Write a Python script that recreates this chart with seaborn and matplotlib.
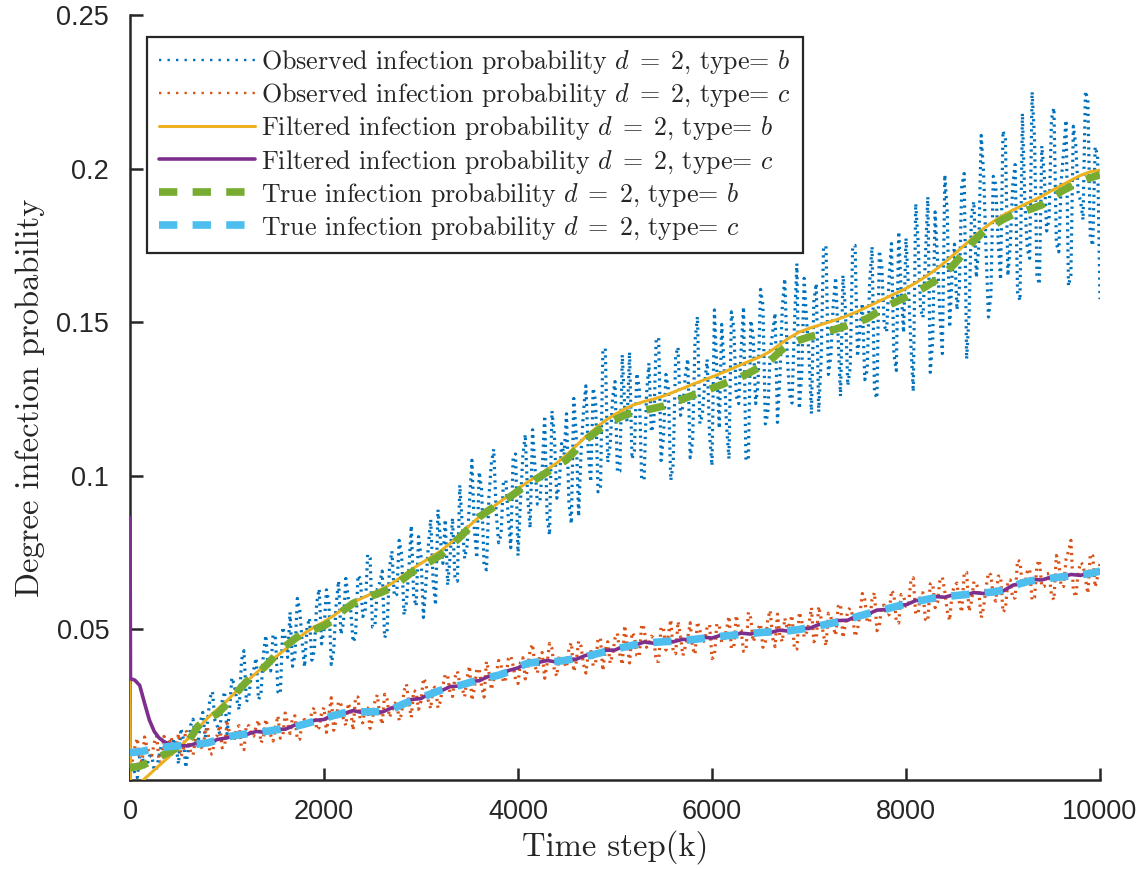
import numpy as np
import pandas as pd
import matplotlib
matplotlib.use("Agg")
import matplotlib.pyplot as plt
import seaborn as sns

# ---------------- data ----------------
obs_steps = list(range(0, 10001, 25))
grid_steps = list(range(0, 10001, 100))

# observed type b, at k = 0, 50, 100, ...
observed_b_even = [
    .0062, .0029, .0087, .0053, .0088, .0041, .0089, .0121, .0084, .0145,
    .0062, .0143, .0111, .0208, .0121, .0230, .0202, .0298, .0185, .0266,
    .0159, .0343, .0273, .0401, .0264, .0352, .0407, .0290, .0481, .0365,
    .0471, .0290, .0473, .0556, .0414, .0564, .0378, .0537, .0430, .0632,
    .0498, .0591, .0432, .0658, .0520, .0602, .0459, .0676, .0542, .0744,
    .0508, .0633, .0690, .0493, .0755, .0614, .0745, .0588, .0838, .0576,
    .0739, .0646, .0858, .0579, .0793, .0858, .0736, .0666, .0970, .0731,
    .0916, .0828, .1013, .0709, .0930, .1087, .0782, .0981, .0865, .1065,
    .0740, .1066, .0930, .1150, .0908, .1023, .0865, .1211, .0927, .1105,
    .1202, .0844, .1135, .1077, .1293, .0980, .1242, .0954, .1415, .1099,
    .1307, .1015, .1223, .1403, .1082, .1285, .0988, .1367, .1170, .1449,
    .1127, .1283, .1038, .1419, .1225, .1381, .1112, .1518, .1198, .1379,
    .1033, .1347, .1493, .1163, .1534, .1260, .1406, .1050, .1506, .1235,
    .1607, .1169, .1403, .1530, .1321, .1642, .1262, .1492, .1218, .1643,
    .1396, .1568, .1208, .1745, .1330, .1559, .1452, .1653, .1294, .1747,
    .1388, .1562, .1344, .1746, .1252, .1682, .1468, .1756, .1343, .1602,
    .1774, .1430, .1886, .1543, .1711, .1337, .1859, .1520, .1980, .1483,
    .1754, .1613, .1984, .1523, .1893, .1748, .1987, .1517, .1975, .1761,
    .2123, .1651, .1946, .1599, .2180, .1737, .2250, .1652, .2074, .1797,
    .2161, .1756, .1958, .2158, .1654, .2078, .1894, .2252, .1778, .2071,
    .1575,
]
# observed type b, at k = 25, 75, 125, ...
observed_b_odd = [
    .0071, .0018, .0086, .0057, .0088, .0049, .0125, .0084, .0081, .0122,
    .0178, .0050, .0188, .0141, .0199, .0148, .0278, .0205, .0161, .0298,
    .0234, .0319, .0238, .0431, .0281, .0369, .0272, .0419, .0379, .0484,
    .0297, .0508, .0409, .0380, .0601, .0457, .0507, .0400, .0587, .0453,
    .0629, .0386, .0580, .0484, .0666, .0565, .0476, .0665, .0559, .0733,
    .0511, .0653, .0473, .0701, .0608, .0790, .0547, .0696, .0605, .0802,
    .0539, .0769, .0659, .0890, .0715, .0644, .0863, .0657, .0842, .0773,
    .1051, .0732, .0956, .0694, .1040, .0882, .0808, .0986, .0766, .1071,
    .0914, .1135, .0830, .1029, .0913, .1196, .0807, .1132, .0974, .1068,
    .0910, .1252, .0868, .1210, .1074, .1286, .0948, .1409, .1044, .1253,
    .1011, .1394, .1175, .1055, .1334, .0987, .1265, .1143, .1447, .1050,
    .1330, .0985, .1391, .1197, .1328, .1059, .1440, .1170, .1301, .1132,
    .1540, .1154, .1356, .1055, .1481, .1235, .1550, .1054, .1454, .1295,
    .1556, .1202, .1467, .1174, .1551, .1396, .1237, .1691, .1333, .1506,
    .1202, .1626, .1379, .1748, .1389, .1646, .1259, .1544, .1353, .1750,
    .1475, .1313, .1629, .1275, .1733, .1491, .1640, .1395, .1795, .1466,
    .1618, .1274, .1762, .1515, .1908, .1438, .1705, .1398, .1860, .1651,
    .1540, .1943, .1380, .1852, .1645, .2108, .1736, .1586, .1948, .1638,
    .2095, .1750, .2013, .1570, .1895, .1708, .2097, .1623, .1984, .1835,
    .2198, .1729, .2058, .1618, .2138, .1922, .1833, .2223, .1749, .2042,
]

# observed type c, at k = 0, 50, 100, ...
observed_c_even = [
    .0049, .0116, .0072, .0150, .0098, .0131, .0069, .0152, .0124, .0095,
    .0161, .0108, .0154, .0091, .0137, .0109, .0181, .0096, .0155, .0115,
    .0195, .0143, .0181, .0113, .0190, .0157, .0184, .0131, .0208, .0156,
    .0183, .0146, .0228, .0161, .0219, .0143, .0207, .0187, .0246, .0181,
    .0246, .0221, .0172, .0266, .0210, .0260, .0172, .0280, .0196, .0244,
    .0208, .0287, .0191, .0273, .0234, .0266, .0225, .0322, .0214, .0297,
    .0266, .0326, .0242, .0308, .0266, .0354, .0292, .0344, .0324, .0281,
    .0381, .0308, .0372, .0280, .0362, .0336, .0399, .0327, .0404, .0382,
    .0324, .0408, .0372, .0452, .0358, .0425, .0389, .0438, .0348, .0410,
    .0376, .0457, .0394, .0445, .0358, .0434, .0390, .0472, .0434, .0390,
    .0471, .0419, .0513, .0391, .0478, .0411, .0504, .0450, .0472, .0396,
    .0502, .0482, .0427, .0526, .0415, .0473, .0439, .0525, .0457, .0508,
    .0405, .0519, .0457, .0501, .0439, .0546, .0498, .0430, .0536, .0482,
    .0518, .0456, .0562, .0444, .0480, .0537, .0517, .0435, .0556, .0475,
    .0520, .0460, .0575, .0480, .0553, .0508, .0574, .0473, .0561, .0545,
    .0500, .0617, .0523, .0597, .0496, .0577, .0546, .0627, .0526, .0614,
    .0575, .0659, .0550, .0618, .0533, .0648, .0571, .0661, .0623, .0529,
    .0642, .0588, .0685, .0559, .0656, .0626, .0571, .0685, .0606, .0673,
    .0556, .0658, .0600, .0726, .0644, .0688, .0595, .0709, .0639, .0681,
    .0611, .0741, .0639, .0729, .0790, .0605, .0718, .0664, .0746, .0638,
    .0714,
]
# observed type c, at k = 25, 75, 125, ...
observed_c_odd = [
    .0075, .0146, .0069, .0117, .0090, .0153, .0070, .0133, .0150, .0111,
    .0087, .0173, .0100, .0146, .0123, .0165, .0093, .0148, .0188, .0118,
    .0167, .0140, .0187, .0109, .0186, .0153, .0205, .0147, .0174, .0137,
    .0219, .0152, .0195, .0213, .0141, .0200, .0189, .0234, .0173, .0228,
    .0165, .0278, .0204, .0256, .0187, .0237, .0280, .0202, .0250, .0178,
    .0268, .0221, .0289, .0214, .0256, .0203, .0300, .0259, .0301, .0240,
    .0341, .0269, .0317, .0245, .0316, .0350, .0282, .0364, .0308, .0343,
    .0269, .0370, .0314, .0396, .0304, .0355, .0384, .0341, .0414, .0338,
    .0393, .0339, .0433, .0381, .0418, .0341, .0455, .0366, .0415, .0393,
    .0438, .0363, .0462, .0387, .0426, .0382, .0470, .0366, .0460, .0416,
    .0487, .0385, .0452, .0490, .0416, .0517, .0442, .0478, .0396, .0509,
    .0433, .0532, .0421, .0478, .0444, .0522, .0419, .0498, .0465, .0516,
    .0413, .0512, .0465, .0543, .0440, .0504, .0429, .0556, .0460, .0503,
    .0442, .0534, .0472, .0550, .0460, .0503, .0546, .0436, .0530, .0491,
    .0571, .0469, .0535, .0447, .0541, .0481, .0583, .0517, .0570, .0477,
    .0551, .0598, .0525, .0620, .0512, .0579, .0548, .0615, .0521, .0609,
    .0577, .0668, .0552, .0619, .0527, .0650, .0588, .0670, .0560, .0618,
    .0651, .0556, .0686, .0591, .0649, .0538, .0636, .0677, .0592, .0675,
    .0567, .0661, .0603, .0721, .0646, .0697, .0604, .0726, .0640, .0682,
    .0596, .0718, .0640, .0754, .0628, .0685, .0711, .0617, .0740, .0672,
]

filtered_b_steps = [0, 5, 50] + list(range(100, 10001, 100))
filtered_b = [
    .0330, -.0030, -.0015,
    .0000, .0028, .0057, .0085, .0114, .0145, .0178, .0212, .0240, .0268,
    .0300, .0330, .0358, .0385, .0410, .0435, .0462, .0488, .0508, .0525,
    .0545, .0568, .0588, .0603, .0618, .0632, .0650, .0672, .0695, .0715,
    .0735, .0755, .0780, .0808, .0838, .0866, .0890, .0912, .0935, .0958,
    .0980, .1000, .1020, .1042, .1068, .1098, .1128, .1155, .1180, .1200,
    .1218, .1232, .1242, .1250, .1260, .1272, .1285, .1298, .1310, .1322,
    .1335, .1348, .1362, .1375, .1388, .1405, .1428, .1450, .1468, .1480,
    .1490, .1500, .1510, .1522, .1535, .1550, .1565, .1580, .1595, .1610,
    .1628, .1648, .1670, .1695, .1722, .1750, .1778, .1805, .1828, .1848,
    .1865, .1880, .1895, .1910, .1928, .1945, .1962, .1978, .1990, .1995,
]

filtered_c_steps = [0, 5, 50, 100, 150, 200, 250, 300, 350, 400, 450] + list(range(500, 10001, 100))
filtered_c = [
    .0865, .0340, .0335, .0318, .0260, .0205, .0168, .0147, .0135, .0128, .0124,
    .0122, .0121, .0131, .0128, .0142, .0147, .0160, .0158, .0168, .0165,
    .0176, .0175, .0189, .0190, .0204, .0207, .0224, .0226, .0236, .0229,
    .0235, .0231, .0245, .0252, .0272, .0275, .0294, .0299, .0314, .0316,
    .0331, .0333, .0348, .0349, .0366, .0375, .0393, .0392, .0399, .0394,
    .0404, .0403, .0416, .0418, .0432, .0433, .0447, .0448, .0459, .0455,
    .0464, .0460, .0468, .0465, .0475, .0472, .0482, .0479, .0488, .0485,
    .0494, .0490, .0498, .0494, .0504, .0503, .0516, .0516, .0529, .0530,
    .0546, .0549, .0563, .0565, .0579, .0580, .0594, .0595, .0607, .0605,
    .0614, .0611, .0620, .0617, .0626, .0625, .0644, .0650, .0663, .0661,
    .0671, .0669, .0679, .0676, .0686, .0692,
]

true_b = [
    .0050, .0055, .0068, .0085, .0100, .0118, .0135, .0185, .0210, .0225,
    .0258, .0295, .0330, .0352, .0382, .0415, .0445, .0470, .0490, .0500,
    .0512, .0530, .0562, .0585, .0598, .0610, .0622, .0636, .0660, .0685,
    .0705, .0722, .0742, .0770, .0800, .0832, .0866, .0888, .0908, .0928,
    .0950, .0972, .0992, .1012, .1032, .1052, .1085, .1118, .1142, .1165,
    .1182, .1198, .1207, .1213, .1220, .1227, .1238, .1250, .1262, .1273,
    .1285, .1297, .1310, .1322, .1338, .1355, .1375, .1405, .1430, .1442,
    .1452, .1460, .1470, .1480, .1490, .1500, .1512, .1532, .1552, .1567,
    .1582, .1598, .1615, .1635, .1660, .1690, .1728, .1765, .1795, .1815,
    .1835, .1850, .1860, .1870, .1882, .1905, .1926, .1942, .1958, .1970,
    .1980,
]

true_c = [
    .0099, .0102, .0108, .0114, .0119, .0121, .0124, .0127, .0131, .0140,
    .0150, .0156, .0160, .0164, .0168, .0173, .0178, .0184, .0192, .0201,
    .0210, .0220, .0228, .0232, .0232, .0232, .0233, .0240, .0255, .0268,
    .0278, .0290, .0302, .0310, .0318, .0327, .0336, .0344, .0351, .0362,
    .0378, .0390, .0394, .0395, .0396, .0400, .0406, .0412, .0420, .0428,
    .0436, .0443, .0450, .0455, .0458, .0460, .0462, .0464, .0467, .0471,
    .0475, .0478, .0481, .0484, .0487, .0490, .0492, .0494, .0496, .0500,
    .0506, .0512, .0518, .0525, .0533, .0542, .0551, .0559, .0567, .0575,
    .0583, .0590, .0597, .0603, .0607, .0610, .0613, .0616, .0619, .0622,
    .0628, .0640, .0652, .0659, .0663, .0667, .0671, .0675, .0678, .0682,
    .0690,
]

legend_labels = [
    r"Observed infection probability $d\;=\;2$, type= $b$",
    r"Observed infection probability $d\;=\;2$, type= $c$",
    r"Filtered infection probability $d\;=\;2$, type= $b$",
    r"Filtered infection probability $d\;=\;2$, type= $c$",
    r"True infection probability $d\;=\;2$, type= $b$",
    r"True infection probability $d\;=\;2$, type= $c$",
]
x_ticks = [0, 2000, 4000, 6000, 8000, 10000]
x_ticklabels = ["0", "2000", "4000", "6000", "8000", "10000"]
y_ticks = [0.05, 0.10, 0.15, 0.20, 0.25]
y_ticklabels = ["0.05", "0.1", "0.15", "0.2", "0.25"]
x_label = "Time step(k)"
y_label = "Degree infection probability"

# interleave the observed samples (k = 0, 25, 50, ...)
observed_b = np.empty(len(obs_steps))
observed_b[0::2] = observed_b_even
observed_b[1::2] = observed_b_odd
observed_c = np.empty(len(obs_steps))
observed_c[0::2] = observed_c_even
observed_c[1::2] = observed_c_odd

# ---------------- style ----------------
sns.set_style("ticks")
plt.rcParams["mathtext.fontset"] = "cm"
plt.rcParams["axes.unicode_minus"] = False

colors = ["#0072BD", "#D95319", "#EDB120", "#7E2F8E", "#77AC30", "#4DBEEE"]

fig = plt.figure(figsize=(11.36, 8.69), dpi=100)
ax = fig.add_axes([130 / 1136, 1 - 780 / 869, 970 / 1136, 765 / 869])

dot_style = (0, (0.7, 1.4))
series = [
    (obs_steps, observed_b, dict(lw=2.3, linestyle=dot_style)),
    (obs_steps, observed_c, dict(lw=2.3, linestyle=dot_style)),
    (filtered_b_steps, filtered_b, dict(lw=2.2, linestyle="-")),
    (filtered_c_steps, filtered_c, dict(lw=2.6, linestyle="-")),
    (grid_steps, true_b, dict(lw=5.5, linestyle=(0, (2.4, 2.0)))),
    (grid_steps, true_c, dict(lw=5.5, linestyle=(0, (2.4, 2.0)))),
]
for (xs, ys, kw), col, lab in zip(series, colors, legend_labels):
    df = pd.DataFrame({"k": xs, "p": ys})
    sns.lineplot(data=df, x="k", y="p", ax=ax, color=col, label=lab,
                 estimator=None, sort=False, zorder=3, **kw)

ax.set_xlim(0, 10000)
ax.set_ylim(0.001, 0.25)
ax.set_xticks(x_ticks)
ax.set_xticklabels(x_ticklabels)
ax.set_yticks(y_ticks)
ax.set_yticklabels(y_ticklabels)
sns.despine(ax=ax)
for s in ["left", "bottom"]:
    ax.spines[s].set_linewidth(1.8)
    ax.spines[s].set_color("#262626")
ax.tick_params(direction="in", length=9, width=1.8, colors="#262626",
               labelsize=19.5)
ax.tick_params(axis="x", pad=14)
ax.tick_params(axis="y", pad=15)
for t in ax.get_xticklabels() + ax.get_yticklabels():
    t.set_fontfamily("Liberation Sans")
    t.set_color("#262626")

ax.set_xlabel(x_label, fontfamily="cmr10", fontsize=23.5, color="#262626", labelpad=3)
ax.set_ylabel(y_label, fontfamily="cmr10", fontsize=23.5, color="#262626", labelpad=8)

leg = ax.legend(loc="upper left", bbox_to_anchor=(0.0175, 0.971), borderaxespad=0,
                prop={"family": "cmr10", "size": 18.7}, frameon=True, fancybox=False,
                framealpha=1, edgecolor="#262626", handlelength=3.7,
                handletextpad=0.25, labelspacing=0.22, borderpad=0.45)
leg.get_frame().set_linewidth(1.6)
# legend samples of the observed series use MATLAB's sparser dot spacing
for ln in leg.get_lines()[:2]:
    ln.set_linewidth(1.7)
    ln.set_linestyle((0, (1, 2.6)))

fig.savefig("out.png", dpi=100)
